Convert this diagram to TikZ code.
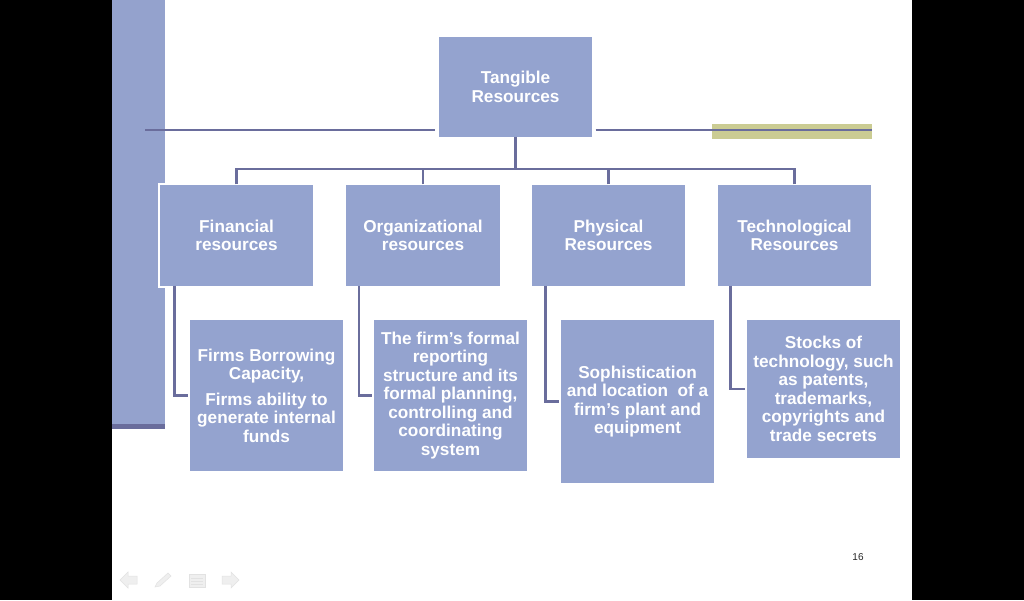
\documentclass[tikz,border=0pt]{standalone}
\usepackage{fontspec}
\setmainfont{Liberation Sans}
\definecolor{boxblue}{HTML}{94A3CF}
\definecolor{barblue}{HTML}{94A2CD}
\definecolor{slate}{HTML}{6A6D9C}
\definecolor{olivebar}{HTML}{CBCC93}
\definecolor{navgray}{HTML}{EFEFEF}
\definecolor{navline}{HTML}{E2E2E2}
\begin{document}
\begin{tikzpicture}[x=1pt,y=-1pt,
  box/.style={fill=boxblue, draw=white, line width=1.2pt, text=white,
    font=\fontsize{17.2}{18.5}\selectfont\bfseries, align=center, inner sep=1pt,
    minimum width=155pt},
  conn/.style={draw=slate, line width=2.4pt},
  nav/.style={fill=navgray, draw=navline, line width=0.5pt}]
\useasboundingbox (0,0) rectangle (1024,600);
% background
\fill[black] (0,0) rectangle (1024,600);
\fill[white] (112,0) rectangle (912,600);
% left bar
\fill[barblue] (112,0) rectangle (165,426);
\fill[slate] (112,424) rectangle (165,429);
% decorative top line
\fill[olivebar] (712,124) rectangle (872,139);
\coordinate (l1) at (145,130);
\coordinate (r1) at (872,130);
% top node
\node[box, minimum height=102pt] (t) at (515.5,87) {Tangible\\Resources};
\draw[conn] (l1) -- ([xshift=-2pt]t.west |- l1);
\draw[conn] ([xshift=2pt]t.east |- r1) -- (r1);
% children
\node[box, minimum height=103pt] (c1) at (236.5,235.5) {Financial\\resources};
\node[box, minimum height=103pt] (c2) at (423,235.5) {Organizational\\resources};
\node[box, minimum height=103pt] (c3) at (608.5,235.5) {Physical\\Resources};
\node[box, minimum height=103pt] (c4) at (794.5,235.5) {Technological\\Resources};
\coordinate (bus) at (515.5,169);
\draw[conn] ([yshift=2pt]t.south) -- (bus);
\foreach \c in {c1,c2,c3,c4} \draw[conn] ([yshift=-1pt]\c.north) |- (bus);
% grandchildren
\node[box, minimum height=153pt] (g1) at (266.5,395.5) {Firms Borrowing\\Capacity,\\[7pt]Firms ability to\\generate internal\\funds};
\node[box, minimum height=153pt] (g2) at (450.5,395.5) {The firm’s formal\\reporting\\structure and its\\formal planning,\\controlling and\\coordinating\\system};
\node[box, minimum height=165pt] (g3) at (637.5,401.5) {Sophistication\\and location~ of a\\firm’s plant and\\equipment};
\node[box, minimum height=140pt] (g4) at (823.5,389) {Stocks of\\technology, such\\as patents,\\trademarks,\\copyrights and\\trade secrets};
\draw[conn] ([xshift=16pt,yshift=2pt]c1.south west) |- (g1.west);
\draw[conn] ([xshift=14pt,yshift=2pt]c2.south west) |- (g2.west);
\draw[conn] ([xshift=15pt,yshift=2pt]c3.south west) |- (g3.west);
\draw[conn] ([xshift=14pt,yshift=2pt]c4.south west) |- (g4.west);
% page number
\node[font=\fontsize{10}{12}\selectfont, text=black!85] (pg) at (858,557) {16};
% navigation icons
\path[nav] (120,580) -- (128,572) -- (128,576) -- (137,576) -- (137,584) -- (128,584) -- (128,588) -- cycle;
\path[nav] (155,587) -- (157,583) -- (168,573) -- (171,576) -- (160,586) -- cycle;
\path[nav] (189,574) rectangle (205,587);
\draw[navline, line width=0.8pt] (191,578) -- (203,578) (191,581) -- (203,581) (191,584) -- (203,584);
\path[nav] (239,580) -- (231,572) -- (231,576) -- (222,576) -- (222,584) -- (231,584) -- (231,588) -- cycle;
\end{tikzpicture}
\end{document}
